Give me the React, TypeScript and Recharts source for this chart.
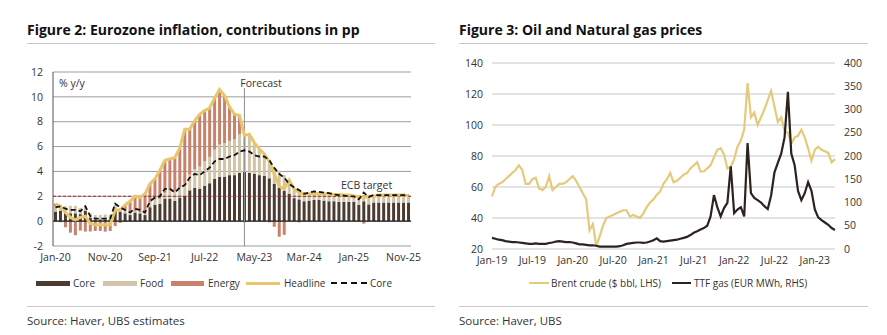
import React from "react";
import {
  ComposedChart,
  LineChart,
  Bar,
  Line,
  XAxis,
  YAxis,
  CartesianGrid,
  ReferenceLine,
} from "recharts";

const FONT = "'Open Sans', 'Noto Sans', sans-serif";
const TEXT = "#333";

// ---- Figure 2: Eurozone inflation, contributions in pp ----
const YEARS = ["20", "21", "22", "23", "24", "25"];
const MONTH_NAMES = ["Jan", "Feb", "Mar", "Apr", "May", "Jun", "Jul", "Aug", "Sep", "Oct", "Nov", "Dec"];
const MONTHS = YEARS.flatMap((y) => MONTH_NAMES.map((m) => `${m}-${y}`));
const INFL_TICKS = ["Jan-20", "Nov-20", "Sep-21", "Jul-22", "May-23", "Mar-24", "Jan-25", "Nov-25"];
const INFL_Y_TICKS = [-2, 0, 2, 4, 6, 8, 10, 12];

const CORE_CONTRIB = [
  0.77, 0.84, 0.7, 0.63, 0.63, 0.56, 0.84, 0.28, 0.14, 0.14, 0.14, 0.14,
  0.98, 0.77, 0.63, 0.49, 0.7, 0.63, 0.49, 1.12, 1.33, 1.4, 1.82, 1.82,
  1.62, 1.9, 2.05, 2.48, 2.68, 2.62, 2.85, 3.05, 3.4, 3.55, 3.55, 3.7,
  3.7, 3.9, 3.95, 3.9, 3.8, 3.7, 3.65, 3.45, 3.0, 2.7, 2.45, 2.2,
  1.85, 1.75, 1.6, 1.65, 1.7, 1.7, 1.65, 1.6, 1.6, 1.55, 1.55, 1.55,
  1.55, 1.3, 1.6, 1.35, 1.5, 1.5, 1.5, 1.5, 1.5, 1.5, 1.5, 1.5,
];
const FOOD_CONTRIB = [
  0.45, 0.45, 0.5, 0.6, 0.6, 0.5, 0.4, 0.35, 0.35, 0.35, 0.4, 0.35,
  0.32, 0.27, 0.23, 0.15, 0.13, 0.1, 0.34, 0.42, 0.44, 0.4, 0.46, 0.67,
  0.84, 0.84, 1.0, 1.26, 1.5, 1.78, 1.96, 2.12, 2.36, 2.62, 2.72, 2.76,
  2.9, 3.1, 3.05, 3.0, 2.5, 2.1, 1.8, 1.45, 1.25, 1.35, 1.25, 1.05,
  0.8, 0.65, 0.6, 0.55, 0.55, 0.5, 0.5, 0.5, 0.5, 0.5, 0.5, 0.5,
  0.5, 0.5, 0.5, 0.5, 0.5, 0.5, 0.5, 0.5, 0.5, 0.5, 0.5, 0.5,
];
const ENERGY_CONTRIB = [
  0.18, -0.09, -0.5, -0.93, -1.13, -0.76, -0.84, -0.83, -0.79, -0.79, -0.84, -0.79,
  -0.4, -0.14, 0.44, 0.96, 1.17, 1.17, 1.37, 1.46, 1.63, 2.3, 2.62, 2.51,
  2.64, 3.16, 4.35, 3.66, 3.92, 4.2, 4.09, 3.93, 4.14, 4.43, 3.83, 2.74,
  2.0, 1.5, -0.1, 0.1, 0.0, 0.0, -0.05, -0.1, -0.45, -1.25, -1.1, 0.05,
  -0.05, -0.1, 0.0, 0.0, 0.0, 0.0, 0.05, 0.1, 0.05, 0.1, 0.05, 0.05,
  0.0, 0.15, -0.2, 0.15, 0.0, 0.1, 0.1, 0.1, 0.1, 0.1, 0.1, 0.05,
];
const HEADLINE = [
  1.4, 1.2, 0.7, 0.3, 0.1, 0.3, 0.4, -0.2, -0.3, -0.3, -0.3, -0.3,
  0.9, 0.9, 1.3, 1.6, 2.0, 1.9, 2.2, 3.0, 3.4, 4.1, 4.9, 5.0,
  5.1, 5.9, 7.4, 7.4, 8.1, 8.6, 8.9, 9.1, 9.9, 10.6, 10.1, 9.2,
  8.6, 8.5, 6.9, 7.0, 6.3, 5.8, 5.4, 4.8, 3.8, 2.8, 2.6, 3.3,
  2.6, 2.3, 2.2, 2.2, 2.25, 2.2, 2.2, 2.2, 2.15, 2.15, 2.1, 2.1,
  2.05, 1.95, 1.9, 2.0, 2.0, 2.1, 2.1, 2.1, 2.1, 2.1, 2.1, 2.05,
];
const CORE_RATE = [
  1.1, 1.2, 1.0, 0.9, 0.9, 0.8, 1.2, 0.4, 0.2, 0.2, 0.2, 0.2,
  1.4, 1.1, 0.9, 0.7, 1.0, 0.9, 0.7, 1.6, 1.9, 2.0, 2.6, 2.6,
  2.3, 2.7, 2.9, 3.5, 3.8, 3.7, 4.0, 4.3, 4.8, 5.0, 5.0, 5.2,
  5.3, 5.6, 5.7, 5.6, 5.3, 5.2, 5.2, 4.9, 4.3, 3.8, 3.5, 3.0,
  2.7, 2.5, 2.2, 2.3, 2.4, 2.35, 2.3, 2.25, 2.15, 2.1, 2.05, 2.0,
  2.0, 1.75, 2.3, 1.95, 2.1, 2.1, 2.1, 2.1, 2.1, 2.1, 2.1, 2.1,
];
const FORECAST_START = "Mar-23";
const ECB_TARGET = 2;

// ---- Figure 3: Oil and Natural gas prices (half-monthly, from Jan-19) ----
const OIL_TICKS = [0, 6, 12, 18, 24, 30, 36, 42, 48];
const OIL_TICK_LABELS = ["Jan-19", "Jul-19", "Jan-20", "Jul-20", "Jan-21", "Jul-21", "Jan-22", "Jul-22", "Jan-23"];
const BRENT = [
  54, 60, 62, 63, 65, 67, 69, 71, 74, 71, 62, 62, 65, 66, 59, 58, 60, 67, 58, 60, 62, 62, 63, 65,
  67, 64, 60, 56, 52, 32, 36, 22, 28, 35, 40, 41, 42, 43, 44, 45, 45, 41, 42, 41, 40, 43, 47, 50,
  52, 55, 57, 62, 65, 69, 63, 64, 66, 68, 69, 72, 74, 76, 70, 70, 72, 74, 79, 84, 85, 81, 72, 73,
  78, 86, 90, 97, 127, 105, 108, 100, 105, 110, 116, 122, 112, 102, 105, 96, 95, 88, 92, 93, 97, 92, 85, 77,
  84, 86, 84, 83, 82, 76, 78,
];
const TTF = [
  24, 22, 20, 19, 17, 16, 15, 15, 14, 13, 12, 11, 11, 12, 11, 11, 11, 13, 14, 16, 17, 16, 15, 15,
  14, 12, 10, 10, 9, 8, 8, 7, 5, 5, 5, 5, 5, 5, 6, 8, 11, 12, 13, 14, 14, 13, 14, 16,
  19, 23, 17, 16, 17, 18, 19, 20, 22, 24, 26, 30, 35, 38, 42, 45, 50, 70, 116, 90, 70, 88, 99, 178,
  77, 85, 90, 70, 228, 120, 110, 105, 100, 92, 86, 115, 165, 185, 205, 240, 338, 205, 180, 125, 105, 120, 144, 125,
  85, 68, 62, 57, 52, 45, 41,
];

const inflData = MONTHS.map((month, i) => ({
  month,
  core: CORE_CONTRIB[i],
  food: FOOD_CONTRIB[i],
  energy: ENERGY_CONTRIB[i],
  headline: HEADLINE[i],
  coreRate: CORE_RATE[i],
}));

const oilData = BRENT.map((b, i) => ({ t: i * 0.5, brent: b, ttf: TTF[i] }));

const C_CORE = "#4b3b31";
const C_FOOD = "#d2c4a8";
const C_ENERGY = "#c8826c";
const C_HEAD = "#e8c66c";
const C_BRENT = "#e5c97c";
const C_TTF = "#2c221e";

const abs = (left: number, top: number, extra: React.CSSProperties = {}): React.CSSProperties => ({
  position: "absolute",
  left,
  top,
  ...extra,
});

function Txt({ x, y, size, children, bold, anchor }: any) {
  return (
    <div
      style={abs(x, y, {
        fontSize: size,
        lineHeight: 1,
        fontWeight: bold ? 700 : 400,
        color: bold ? "#111" : TEXT,
        whiteSpace: "nowrap",
        transform: anchor === "middle" ? "translateX(-50%)" : undefined,
      })}
    >
      {children}
    </div>
  );
}

function Rule({ x1, x2, y }: { x1: number; x2: number; y: number }) {
  return <div style={abs(x1, y, { width: x2 - x1, height: 1, background: "#c9c9c9" })} />;
}

function Swatch({ x, w, h, color, dashed }: any) {
  return (
    <div
      style={abs(x, 283 - h / 2, {
        width: w,
        height: dashed ? 0 : h,
        background: dashed ? undefined : color,
        borderTop: dashed ? `${h}px dashed ${color}` : undefined,
      })}
    />
  );
}

export default function App() {
  const tick = { fill: TEXT, fontSize: 10.5, fontFamily: FONT };
  return (
    <div
      style={{
        position: "absolute",
        left: 0,
        top: 0,
        width: 887,
        height: 335,
        background: "#fff",
        overflow: "hidden",
        fontFamily: FONT,
      }}
    >
      {/* Left panel */}
      <Txt x={27} y={22.6} size={14} bold>
        Figure 2: Eurozone inflation, contributions in pp
      </Txt>
      <Rule x1={27} x2={435} y={43} />

      <div style={abs(0, 0)}>
        <ComposedChart
          width={430}
          height={270}
          data={inflData}
          stackOffset="sign"
          margin={{ top: 72, right: 19, bottom: 4, left: 13 }}
        >
          <CartesianGrid vertical={false} stroke="#9d9d9d" strokeWidth={1} />
          <XAxis
            dataKey="month"
            ticks={INFL_TICKS}
            interval={0}
            axisLine={false}
            tickLine={false}
            tick={tick}
            height={20}
          />
          <YAxis
            domain={[-2, 12]}
            ticks={INFL_Y_TICKS}
            axisLine={{ stroke: "#555" }}
            tickLine={false}
            tick={tick}
            tickMargin={4}
            width={40}
          />
          <Bar dataKey="core" stackId="a" fill={C_CORE} barSize={3} isAnimationActive={false} />
          <Bar dataKey="food" stackId="a" fill={C_FOOD} barSize={3} isAnimationActive={false} />
          <Bar dataKey="energy" stackId="a" fill={C_ENERGY} barSize={3} isAnimationActive={false} />
          <ReferenceLine y={0} stroke="#222" strokeWidth={1.2} />
          <ReferenceLine y={ECB_TARGET} stroke="#a8262a" strokeDasharray="3 2" strokeWidth={1} />
          <ReferenceLine
            segment={[
              { x: FORECAST_START, y: 10.7 },
              { x: FORECAST_START, y: -2 },
            ]}
            stroke="#8f8f8f"
            strokeWidth={1}
          />
          <Line
            dataKey="headline"
            type="linear"
            stroke={C_HEAD}
            strokeWidth={3}
            dot={false}
            isAnimationActive={false}
          />
          <Line
            dataKey="coreRate"
            type="linear"
            stroke="#111"
            strokeWidth={1.8}
            strokeDasharray="5 3"
            dot={false}
            isAnimationActive={false}
          />
        </ComposedChart>
      </div>
      <Txt x={59} y={78} size={10.5}>% y/y</Txt>
      <Txt x={261} y={77.5} size={10.5} anchor="middle">Forecast</Txt>
      <Txt x={341} y={180} size={10.5}>ECB target</Txt>

      {/* left legend */}
      <Swatch x={36} w={34} h={5} color={C_CORE} />
      <Txt x={73} y={277.7} size={10}>Core</Txt>
      <Swatch x={103} w={34} h={5} color={C_FOOD} />
      <Txt x={140} y={277.7} size={10}>Food</Txt>
      <Swatch x={171} w={33} h={5} color={C_ENERGY} />
      <Txt x={208} y={277.7} size={10}>Energy</Txt>
      <Swatch x={246} w={34} h={3} color={C_HEAD} />
      <Txt x={284} y={277.7} size={10}>Headline</Txt>
      <Swatch x={331} w={36} h={2} color="#111" dashed />
      <Txt x={370} y={277.7} size={10}>Core</Txt>

      <Rule x1={27} x2={435} y={306} />
      <Txt x={27} y={314.8} size={11.5}>Source: Haver, UBS estimates</Txt>

      {/* Right panel */}
      <Txt x={459} y={22.6} size={14} bold>
        Figure 3: Oil and Natural gas prices
      </Txt>
      <Rule x1={459} x2={868} y={43} />

      <div style={abs(440, 0)}>
        <LineChart
          width={447}
          height={270}
          data={oilData}
          margin={{ top: 63, right: 12, bottom: 1, left: 12 }}
        >
          <CartesianGrid vertical={false} stroke="#dadada" strokeWidth={1.5} yAxisId="left" />
          <XAxis
            dataKey="t"
            type="number"
            domain={[0, 51]}
            ticks={OIL_TICKS}
            tickFormatter={(v: number) => OIL_TICK_LABELS[OIL_TICKS.indexOf(v)]}
            axisLine={false}
            tickLine={false}
            tick={tick}
            height={20}
          />
          <YAxis
            yAxisId="left"
            domain={[20, 140]}
            ticks={[20, 40, 60, 80, 100, 120, 140]}
            axisLine={false}
            tickLine={false}
            tick={tick}
            tickMargin={3}
            width={40}
          />
          <YAxis
            yAxisId="right"
            orientation="right"
            domain={[0, 400]}
            ticks={[0, 50, 100, 150, 200, 250, 300, 350, 400]}
            axisLine={false}
            tickLine={false}
            tick={tick}
            tickMargin={3}
            width={40}
          />
          <Line
            yAxisId="left"
            dataKey="brent"
            type="linear"
            stroke={C_BRENT}
            strokeWidth={2.2}
            dot={false}
            isAnimationActive={false}
          />
          <Line
            yAxisId="right"
            dataKey="ttf"
            type="linear"
            stroke={C_TTF}
            strokeWidth={2.2}
            dot={false}
            isAnimationActive={false}
          />
        </LineChart>
      </div>

      {/* right legend */}
      <Swatch x={529} w={20} h={2} color={C_BRENT} />
      <Txt x={551} y={277.7} size={10}>Brent crude ($ bbl, LHS)</Txt>
      <Swatch x={672} w={19} h={2.5} color={C_TTF} />
      <Txt x={694} y={277.7} size={10}>TTF gas (EUR MWh, RHS)</Txt>

      <Rule x1={459} x2={868} y={306} />
      <Txt x={459} y={314.8} size={11.5}>Source: Haver, UBS</Txt>
    </div>
  );
}
